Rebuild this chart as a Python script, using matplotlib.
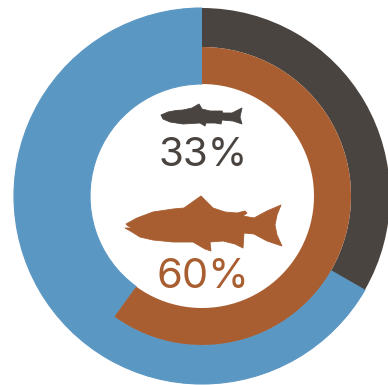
import matplotlib
matplotlib.use("Agg")
import matplotlib.pyplot as plt
from matplotlib.patches import PathPatch
from matplotlib.path import Path

# Share of each ring, percent
outer_values = [33.3, 66.7]
inner_values = [60, 40]
labels = ["33%", "60%"]

DARK = "#4a4440"
RUST = "#a95e31"
BLUE = "#5b97c3"

W, H = 388, 385
CX, CY = 202, H - 196
R_OUTER, R_MID, R_HOLE = 188, 149, 112

# Fish silhouettes, traced in canvas pixels from the top-left corner
small_fish = [(161, 115), (168, 112), (176, 110.5), (183, 110), (192, 108), (199, 104),
              (202, 109), (210, 111), (222, 111), (223, 113), (232, 113), (242, 108),
              (240, 117), (242, 124), (233, 121), (222, 120), (221, 124), (215, 123),
              (206, 123), (205, 126), (200, 123), (183, 124), (170, 122), (163, 119)]
large_fish = [(126, 224), (137, 218), (153, 212), (173, 209), (184, 208), (201, 196),
              (205, 200), (213, 208), (225, 212), (237, 213), (245, 211), (247, 213),
              (243, 216), (254, 218), (267, 211), (281, 205), (277, 215), (275, 225),
              (277, 235), (282, 246), (267, 241), (254, 234), (244, 233), (243, 248),
              (235, 244), (223, 241), (210, 242), (211, 251), (205, 249), (193, 242),
              (173, 242), (153, 240), (140, 237), (132, 232), (125, 228), (133, 228),
              (128, 226)]


def fish_patch(points, color):
    flipped = [(x, H - y) for x, y in points] + [(points[0][0], H - points[0][1])]
    codes = [Path.MOVETO] + [Path.LINETO] * (len(points) - 1) + [Path.CLOSEPOLY]
    return PathPatch(Path(flipped, codes), facecolor=color, edgecolor=color, lw=0.6,
                     joinstyle="round", zorder=5)


fig = plt.figure(figsize=(W / 100, H / 100), dpi=100, facecolor="white")
ax = fig.add_axes([0, 0, 1, 1])

outer, _ = ax.pie(outer_values, colors=[DARK, BLUE], radius=R_OUTER, center=(CX, CY),
                  startangle=90, counterclock=False, frame=True,
                  wedgeprops=dict(width=R_OUTER - R_MID, linewidth=0))
inner, _ = ax.pie(inner_values, colors=[RUST, BLUE], radius=R_MID, center=(CX, CY),
                  startangle=90, counterclock=False, frame=True,
                  wedgeprops=dict(width=R_MID - R_HOLE, linewidth=0))

# Blue parts of the two rings share a thin edge so no seam shows between them
for blue_part in (outer[1], inner[1]):
    blue_part.set_edgecolor(BLUE)
    blue_part.set_linewidth(0.8)
    blue_part.set_zorder(1)
outer[0].set_zorder(2)
inner[0].set_zorder(3)

ax.set_xlim(0, W)
ax.set_ylim(0, H)
ax.set_aspect("equal")
ax.axis("off")

ax.add_patch(fish_patch(small_fish, DARK))
ax.add_patch(fish_patch(large_fish, RUST))

ax.text(203.5, H - 151.5, labels[0], color=DARK, family="Inter", fontsize=29,
        ha="center", va="center_baseline", zorder=6)
ax.text(202.5, H - 273, labels[1], color=RUST, family="Inter", fontsize=30,
        ha="center", va="center_baseline", zorder=6)

fig.savefig("out.png", dpi=100, facecolor="white")
